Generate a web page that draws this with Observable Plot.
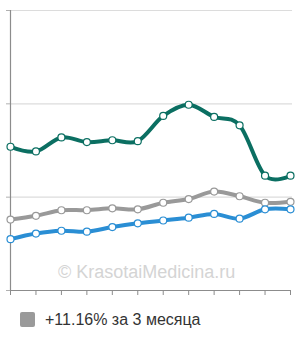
<!DOCTYPE html>
<html><head><meta charset="utf-8">
<script src="https://cdn.jsdelivr.net/npm/d3@7"></script>
<script src="https://cdn.jsdelivr.net/npm/@observablehq/plot@0.6"></script>
<style>
body{margin:0;background:#fff;font-family:"Liberation Sans",Arial,sans-serif;}
#legend{position:relative;height:40px;}
#legend .sw{position:absolute;left:20px;top:12px;width:15px;height:15px;background:#9a9a9a;border-radius:2px;}
#legend .lb{position:absolute;left:45px;top:11px;font-size:16px;color:#333;line-height:18px;}
</style></head>
<body>
<div id="chart"></div>
<div id="legend"><div class="sw"></div><div class="lb" id="lbl"></div></div>
<script>
const months = [0,1,2,3,4,5,6,7,8,9,10,11];
const teal = [1.54,1.49,1.64,1.59,1.61,1.60,1.87,1.99,1.86,1.77,1.23,1.23];
const gray = [0.76,0.80,0.86,0.86,0.88,0.87,0.94,0.98,1.06,1.01,0.94,0.95];
const blue = [0.55,0.61,0.64,0.63,0.68,0.72,0.75,0.78,0.82,0.77,0.87,0.87];
const yTicks = [1,2,3];
const legendLabel = "+11.16% за 3 месяца";
const watermark = "© KrasotaiMedicina.ru";

const rows = (vals) => months.map((m,i)=>({x:m,y:vals[i]}));
const series = [
  {name:"gray", data: rows(gray), color:"#999999"},
  {name:"blue", data: rows(blue), color:"#2a8ed4"},
  {name:"teal", data: rows(teal), color:"#0b6f62"}
];

const out = [
  Plot.ruleY(yTicks, {x1:0, x2:11.08, stroke:"#dcdcdc", strokeWidth:1.2}),
  Plot.text([watermark], {x:5.35, y:0.13, text:d=>d, fill:"#d4d4d4", fontSize:18, fontFamily:"Liberation Sans, Arial, sans-serif", textAnchor:"middle", lineAnchor:"bottom"}),
  Plot.ruleX([0], {y1:0, y2:3, stroke:"#8c8c8c", strokeWidth:1.2}),
  Plot.ruleY([0], {x1:0, x2:11, stroke:"#8c8c8c", strokeWidth:1.2}),
  Plot.axisX(months, {tickSize:5, tickFormat:()=>"", stroke:"#8c8c8c", anchor:"bottom", label:null}),
  Plot.axisY([0,1,2,3], {tickSize:4, tickFormat:()=>"", stroke:"#b0b0b0", anchor:"left", label:null})
];
for (const s of series) {
  out.push(Plot.line(s.data, {x:"x", y:"y", stroke:s.color, strokeWidth:4, curve:"cardinal", tension:0}));
  out.push(Plot.dot(s.data, {x:"x", y:"y", r:3.5, fill:"#fff", stroke:s.color, strokeWidth:1.2}));
}

const chart = Plot.plot({
  width:300, height:300,
  marginTop:10, marginBottom:10, marginLeft:10, marginRight:10,
  x:{domain:[0,11], axis:null, label:null},
  y:{domain:[0,3], axis:null, label:null},
  style:{background:"#fff", fontFamily:"Liberation Sans, Arial, sans-serif"},
  marks: out
});
document.getElementById("chart").appendChild(chart);
document.getElementById("lbl").textContent = legendLabel;
</script>
</body></html>
